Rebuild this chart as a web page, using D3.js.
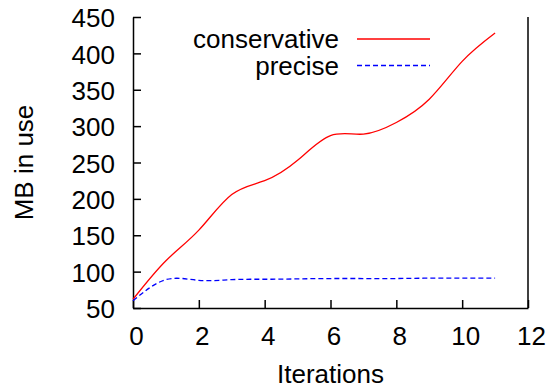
<!DOCTYPE html>
<html>
<head>
<meta charset="utf-8">
<script src="https://cdn.jsdelivr.net/npm/d3@7"></script>
<style>
  body { margin: 0; background: #fff; }
  text { font-family: "Liberation Sans", Arial, sans-serif; }
</style>
</head>
<body>
<div class="vis"></div>
<script>
// frame size and plot box
const FRAME_WIDTH = 550;
const FRAME_HEIGHT = 388;
const MARGINS = {left: 133, right: 22, top: 17, bottom: 80};

const VIS_WIDTH = FRAME_WIDTH - MARGINS.left - MARGINS.right;
const VIS_HEIGHT = FRAME_HEIGHT - MARGINS.top - MARGINS.bottom;

// data
const iterations = [0, 1, 2, 3, 4, 5, 6, 7, 8, 9, 10, 11];
const conservative = [62, 115, 157, 206, 225, 253, 287, 289, 305, 337, 389, 428];
const precise = [60, 89, 88, 89, 89.5, 90, 90.5, 90.5, 90.5, 91, 91, 91];
const xTicks = [0, 2, 4, 6, 8, 10, 12];
const yTicks = [50, 100, 150, 200, 250, 300, 350, 400, 450];
const seriesNames = ['conservative', 'precise'];

const FRAME = d3.select('.vis')
  .append('svg')
    .attr('width', FRAME_WIDTH)
    .attr('height', FRAME_HEIGHT);

// scales
const xscale = d3.scaleLinear()
  .domain([0, 12])
  .range([MARGINS.left, MARGINS.left + VIS_WIDTH]);
const yscale = d3.scaleLinear()
  .domain([50, 450])
  .range([MARGINS.top + VIS_HEIGHT, MARGINS.top]);

// x axis, ticks pointing inwards
const xAxis = FRAME.append('g')
  .attr('transform', 'translate(0,' + (MARGINS.top + VIS_HEIGHT) + ')')
  .call(d3.axisBottom(xscale).tickValues(xTicks).tickSize(-8).tickSizeOuter(0).tickPadding(18.5));

// y axis
const yAxis = FRAME.append('g')
  .attr('transform', 'translate(' + MARGINS.left + ',0)')
  .call(d3.axisLeft(yscale).tickValues(yTicks).tickSize(-8).tickSizeOuter(0).tickPadding(18));

[xAxis, yAxis].forEach((ax) => {
  ax.select('.domain').attr('stroke', '#000').attr('stroke-width', 1.5);
  ax.selectAll('.tick line').attr('stroke', '#000').attr('stroke-width', 1.5);
  ax.selectAll('.tick text')
    .attr('fill', '#000')
    .attr('font-size', '26px')
    .attr('font-family', '"Liberation Sans", Arial, sans-serif');
});
xAxis.selectAll('.tick text').attr('dx', 3);
yAxis.selectAll('.tick text').attr('dy', '0.37em');

// right border
FRAME.append('line')
  .attr('x1', xscale(12)).attr('x2', xscale(12))
  .attr('y1', yscale(450)).attr('y2', yscale(50))
  .attr('stroke', '#000')
  .attr('stroke-width', 1.5);

// curves
const line = (vals) => d3.line()
  .x((d, i) => xscale(iterations[i]))
  .y((d) => yscale(d))
  .curve(d3.curveNatural)(vals);

FRAME.append('path')
  .attr('d', line(conservative))
  .attr('fill', 'none')
  .attr('stroke', '#ff0000')
  .attr('stroke-width', 1.3);

FRAME.append('path')
  .attr('d', line(precise))
  .attr('fill', 'none')
  .attr('stroke', '#0000ff')
  .attr('stroke-width', 1.3)
  .attr('stroke-dasharray', '5,3');

// legend
const legend = FRAME.append('g');
seriesNames.forEach((name, i) => {
  const ly = 39 + i * 26.5;
  legend.append('text')
    .attr('x', 339)
    .attr('y', ly + 9)
    .attr('text-anchor', 'end')
    .attr('font-size', '26px')
    .text(name);
  legend.append('line')
    .attr('x1', 357).attr('x2', 430)
    .attr('y1', ly).attr('y2', ly)
    .attr('stroke', i == 0 ? '#ff0000' : '#0000ff')
    .attr('stroke-width', 1.3)
    .attr('stroke-dasharray', i == 0 ? null : '5,3');
});

// axis labels
FRAME.append('text')
  .attr('x', MARGINS.left + VIS_WIDTH / 2)
  .attr('y', 383)
  .attr('text-anchor', 'middle')
  .attr('font-size', '26px')
  .text('Iterations');

FRAME.append('text')
  .attr('transform', 'translate(33,' + (MARGINS.top + VIS_HEIGHT / 2) + ') rotate(-90)')
  .attr('text-anchor', 'middle')
  .attr('font-size', '26px')
  .text('MB in use');
</script>
</body>
</html>
